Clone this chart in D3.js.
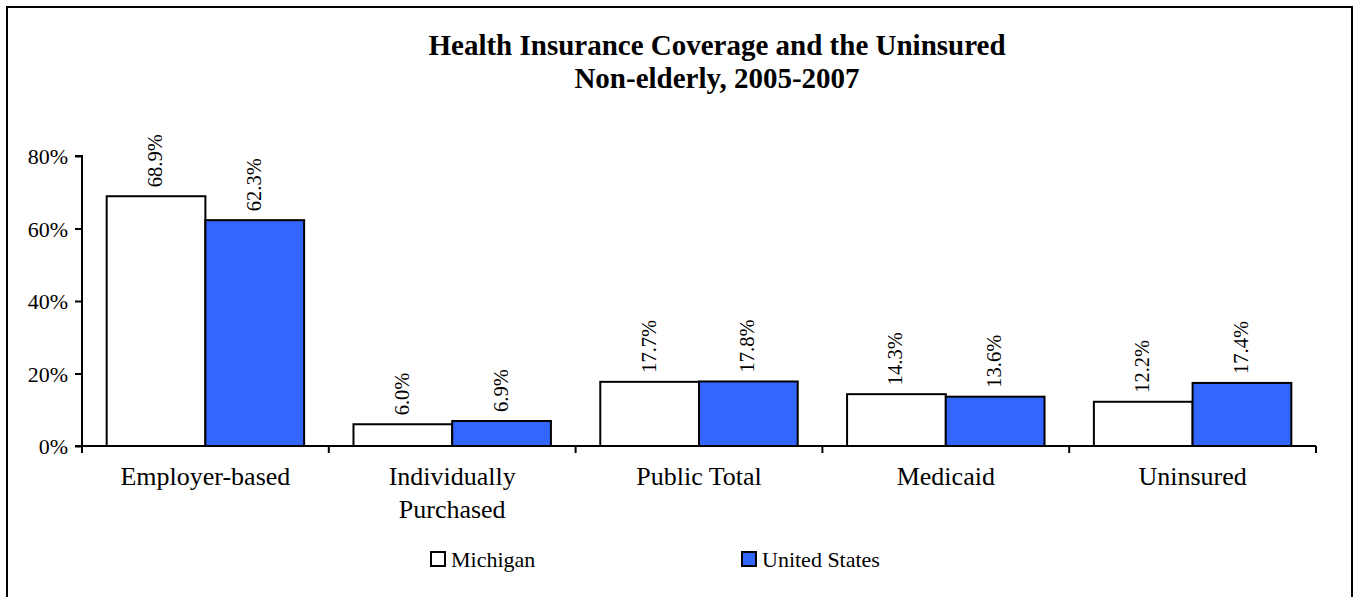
<!DOCTYPE html>
<html>
<head>
<meta charset="utf-8">
<script src="https://cdn.jsdelivr.net/npm/d3@7"></script>
<style>
  body { margin: 0; background: #fff; }
  svg text { font-family: "Liberation Serif", "Times New Roman", serif; fill: #000; }
</style>
</head>
<body>
<div id="chart"></div>
<script>
var categories = ["Employer-based", "Individually Purchased", "Public Total", "Medicaid", "Uninsured"];
var seriesNames = ["Michigan", "United States"];
var michigan = [68.9, 6.0, 17.7, 14.3, 12.2];
var unitedStates = [62.3, 6.9, 17.8, 13.6, 17.4];
var yTicks = [0, 20, 40, 60, 80];

var W = 1353, H = 597;
var margin = {top: 156, right: 37, bottom: 151, left: 82};
var width = W - margin.left - margin.right,
    height = H - margin.top - margin.bottom;

var colors = {"Michigan": "#ffffff", "United States": "#3366ff"};

var svg = d3.select("#chart").append("svg")
    .attr("width", W)
    .attr("height", H);

// outer frame
svg.append("rect")
    .attr("x", 7).attr("y", 7)
    .attr("width", 1345).attr("height", 600)
    .attr("fill", "none")
    .attr("stroke", "#000")
    .attr("stroke-width", 2);

// title
svg.append("text")
    .attr("x", 717).attr("y", 55)
    .attr("text-anchor", "middle")
    .style("font-size", "29px").style("font-weight", "bold")
    .text("Health Insurance Coverage and the Uninsured");
svg.append("text")
    .attr("x", 717).attr("y", 88)
    .attr("text-anchor", "middle")
    .style("font-size", "29px").style("font-weight", "bold")
    .text("Non-elderly, 2005-2007");

var g = svg.append("g")
    .attr("transform", "translate(" + margin.left + "," + margin.top + ")");

// each category gets an equal slot; the bar pair fills the middle 80%
var step = width / categories.length;
var x1 = d3.scaleBand()
    .domain(seriesNames)
    .range([0, step * 0.8]);

var y = d3.scaleLinear()
    .domain([0, 80])
    .range([height, 0]);

var rows = categories.map(function(c, i) {
  return {cat: c, vals: [
    {series: "Michigan", value: michigan[i]},
    {series: "United States", value: unitedStates[i]}
  ]};
});

var groups = g.selectAll(".grp")
    .data(rows)
    .enter().append("g")
    .attr("class", "grp")
    .attr("transform", function(d, i) { return "translate(" + (i * step + step * 0.1) + ",0)"; });

groups.selectAll("rect")
    .data(function(d) { return d.vals; })
    .enter().append("rect")
    .attr("x", function(d) { return x1(d.series); })
    .attr("y", function(d) { return y(d.value); })
    .attr("width", x1.bandwidth())
    .attr("height", function(d) { return height - y(d.value); })
    .attr("fill", function(d) { return colors[d.series]; })
    .attr("stroke", "#000")
    .attr("stroke-width", 2);

// value labels, rotated
groups.selectAll(".lbl")
    .data(function(d) { return d.vals; })
    .enter().append("text")
    .attr("class", "lbl")
    .attr("transform", function(d) {
      return "translate(" + (x1(d.series) + x1.bandwidth() / 2 + 6) + "," + (y(d.value) - 9) + ") rotate(-90)";
    })
    .style("font-size", "20.5px")
    .text(function(d) { return d.value.toFixed(1) + "%"; });

// y axis
var yAxis = d3.axisLeft(y)
    .tickValues(yTicks)
    .tickSize(7)
    .tickPadding(7)
    .tickFormat(function(d) { return d + "%"; });

var ya = g.append("g").call(yAxis);
ya.select(".domain").attr("stroke-width", 2).attr("d", "M-7,0H0V" + height + "H-7");
ya.selectAll(".tick line").attr("stroke-width", 2);
ya.selectAll(".tick text").style("font-size", "22px").attr("dy", "0.35em");

// x axis line + ticks at category boundaries
var xa = g.append("g").attr("transform", "translate(0," + height + ")");
xa.append("line")
    .attr("x1", 0).attr("x2", width)
    .attr("stroke", "#000").attr("stroke-width", 2);
d3.range(categories.length + 1).forEach(function(i) {
  xa.append("line")
      .attr("x1", i * step).attr("x2", i * step)
      .attr("y1", 0).attr("y2", 7)
      .attr("stroke", "#000").attr("stroke-width", 2);
});

var wraps = {"Individually Purchased": ["Individually", "Purchased"]};
categories.forEach(function(c, i) {
  var lines = wraps[c] || [c];
  var t = xa.append("text")
      .attr("x", i * step + step / 2)
      .attr("y", 39)
      .attr("text-anchor", "middle")
      .style("font-size", "26px");
  lines.forEach(function(l, k) {
    t.append("tspan")
        .attr("x", i * step + step / 2)
        .attr("dy", k === 0 ? 0 : 33)
        .text(l);
  });
});

// legend
var legendX = [431, 742];
seriesNames.forEach(function(s, i) {
  svg.append("rect")
      .attr("x", legendX[i]).attr("y", 552)
      .attr("width", 14).attr("height", 14)
      .attr("fill", colors[s])
      .attr("stroke", "#000").attr("stroke-width", 2);
  svg.append("text")
      .attr("x", legendX[i] + 20).attr("y", 567)
      .style("font-size", "22px")
      .text(s);
});
</script>
</body>
</html>
